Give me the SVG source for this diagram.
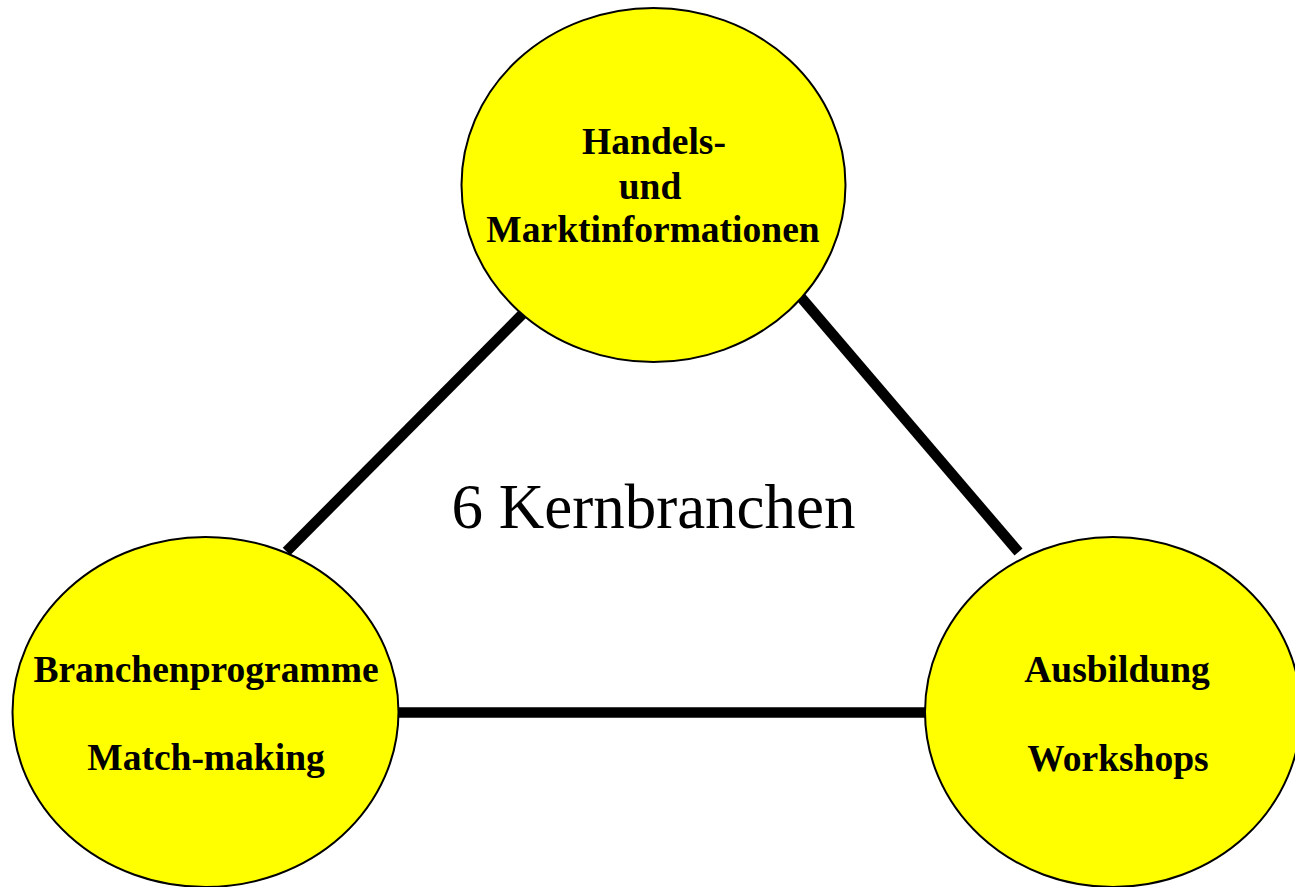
<svg xmlns="http://www.w3.org/2000/svg" width="1295" height="887" viewBox="0 0 1295 887">
<style>
.node{fill:#ffff00;stroke:#000;stroke-width:2}
.lbl{font-family:"Liberation Serif","Times New Roman",serif;font-weight:bold;font-size:37.5px;fill:#000;text-anchor:middle}
.conn{stroke:#000;stroke-width:10.5;stroke-linecap:butt;fill:none}
.center{font-family:"Liberation Serif","Times New Roman",serif;font-size:63px;fill:#000;text-anchor:middle}
</style>
<rect width="1295" height="887" fill="#fff"/>
<g id="connectors">
<line class="conn" x1="522.5" y1="314" x2="286.5" y2="551.5"/>
<line class="conn" x1="799" y1="295" x2="1018.5" y2="552"/>
<line class="conn" x1="396" y1="712.5" x2="927" y2="712.5"/>
</g>
<g id="node-top">
<ellipse class="node" cx="653.5" cy="185" rx="192" ry="177"/>
<text class="lbl" x="654" y="154">Handels-</text>
<text class="lbl" x="650" y="199">und</text>
<text class="lbl" x="653" y="242">Marktinformationen</text>
</g>
<g id="node-left">
<ellipse class="node" cx="205.5" cy="712" rx="193" ry="175"/>
<text class="lbl" x="206" y="682">Branchenprogramme</text>
<text class="lbl" x="206" y="770">Match-making</text>
</g>
<g id="node-right">
<ellipse class="node" cx="1113" cy="712" rx="188" ry="175"/>
<text class="lbl" x="1117" y="682">Ausbildung</text>
<text class="lbl" x="1118" y="771">Workshops</text>
</g>
<g id="title">
<text class="center" x="653.5" y="528">6 Kernbranchen</text>
</g>
</svg>
